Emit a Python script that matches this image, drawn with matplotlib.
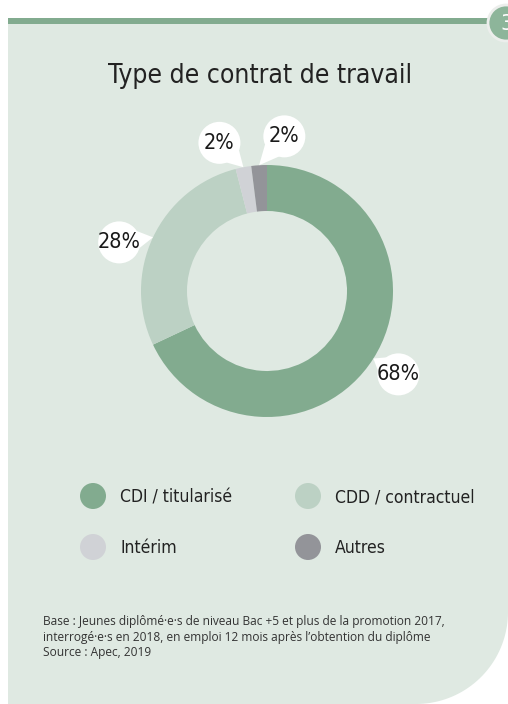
import numpy as np
import matplotlib
matplotlib.use("Agg")
import matplotlib.pyplot as plt
from matplotlib.patches import Circle, Polygon, Rectangle, PathPatch
from matplotlib.path import Path

# contract types and shares (%)
categories = ["CDI / titularisé", "CDD / contractuel", "Intérim", "Autres"]
shares = [68, 28, 2, 2]
colors = ["#82ab8f", "#bcd1c4", "#d0d2d6", "#939499"]

title = "Type de contrat de travail"
note = ("Base : Jeunes diplômé\u00b7e\u00b7s de niveau Bac +5 et plus de la promotion 2017,\n"
        "interrogé\u00b7e\u00b7s en 2018, en emploi 12 mois après l\u2019obtention du diplôme\n"
        "Source : Apec, 2019")

BG = "#dfe9e2"
GREEN = "#82ab8f"
NARROW = dict(family="DejaVu Sans", stretch="condensed")

W, H = 508, 704
fig = plt.figure(figsize=(W / 100, H / 100), dpi=100)
fig.patch.set_facecolor("white")

# background layer in pixel units (y downwards)
ax = fig.add_axes([0, 0, 1, 1])
ax.set_xlim(0, W)
ax.set_ylim(H, 0)
ax.axis("off")

# panel with a large rounded bottom-right corner
rad = 92
cx, cy = W - rad, H - rad
t = np.linspace(0, np.pi / 2, 40)
arc = np.column_stack([cx + rad * np.cos(t), cy + rad * np.sin(t)])
verts = np.vstack([[8, 24], [W + 2, 24], arc, [8, H + 2], [8, 24]])
ax.add_patch(PathPatch(Path(verts), facecolor=BG, edgecolor="none"))

# top rule and chapter badge
ax.add_patch(Rectangle((8, 18), 490, 6, facecolor=GREEN, edgecolor="none"))
ax.add_patch(Circle((506, 23), 18, facecolor="#8db59a", edgecolor="#eceeec", lw=2))
ax.text(500, 24, "3", color="white", fontsize=16, ha="left", va="center", **NARROW)

ax.text(260, 76, title, fontsize=19, ha="center", va="center", color="#222222",
        **NARROW)

# donut
R = 126
pcx, pcy = 267, 291
axp = fig.add_axes([(pcx - R) / W, (H - pcy - R) / H, 2 * R / W, 2 * R / H])
wedges, _ = axp.pie(shares, colors=colors, startangle=90, counterclock=False,
                    radius=1, wedgeprops=dict(width=46 / R, edgecolor="none"))
axp.set_xlim(-1, 1)
axp.set_ylim(-1, 1)
axp.set_aspect("equal")
axp.axis("off")

# value bubbles pointing at each slice
shift = [0, 7, 7, -10]
rb = 21 / R
for w, v, s in zip(wedges, shares, shift):
    mid = np.deg2rad((w.theta1 + w.theta2) / 2)
    tip = np.array([np.cos(mid), np.sin(mid)])
    ang = mid + np.deg2rad(s)
    c = 1.235 * np.array([np.cos(ang), np.sin(ang)])
    phi = np.arctan2(*(tip - c)[::-1])
    b1 = c + 0.9 * rb * np.array([np.cos(phi + 0.6), np.sin(phi + 0.6)])
    b2 = c + 0.9 * rb * np.array([np.cos(phi - 0.6), np.sin(phi - 0.6)])
    axp.add_patch(Polygon([b1, tip, b2], closed=True, facecolor="white",
                          edgecolor="none", clip_on=False))
    axp.add_patch(Circle(c, rb, facecolor="white", edgecolor="none", clip_on=False))
    axp.text(c[0], c[1], f"{v}%", fontsize=15.5, ha="center", va="center",
             color="#1a1a1a", clip_on=False, **NARROW)

# legend, two columns
for i, (lab, col) in enumerate(zip(categories, colors)):
    x = 93 + (i % 2) * 215
    y = 496 + (i // 2) * 51
    ax.add_patch(Circle((x, y), 13, facecolor=col, edgecolor="none"))
    ax.text(x + 27, y + 6, lab, fontsize=12.6, ha="left", va="baseline",
            color="#222222", **NARROW)

ax.text(43, 637, note, fontsize=8.6, ha="left", va="center", color="#333333",
        family=["Open Sans", "DejaVu Sans"], linespacing=1.25)

fig.savefig("out.png", dpi=100, facecolor="white")
